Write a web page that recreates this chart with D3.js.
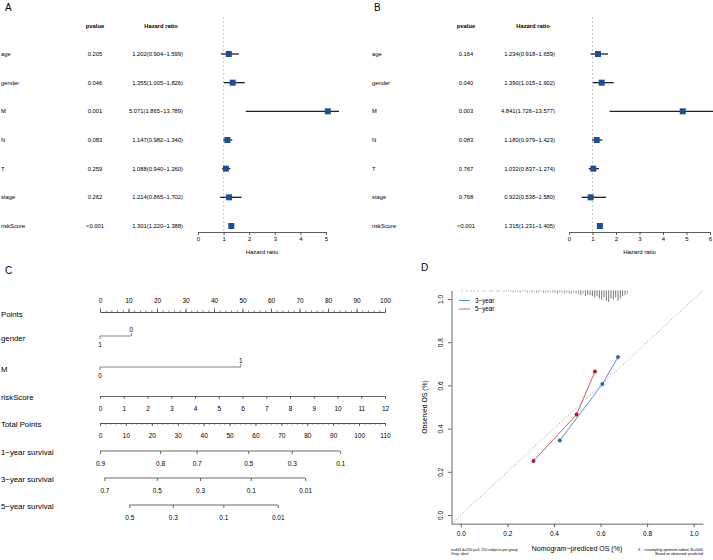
<!DOCTYPE html>
<html lang="en">
<head>
<meta charset="UTF-8" />
<title>Cox regression, nomogram and calibration</title>
<script src="https://d3js.org/d3.v7.min.js"></script>
<style>
  body { margin: 0; background: #fff; }
  svg { display: block; font-family: "Liberation Sans", Arial, Helvetica, sans-serif; }
</style>
</head>
<body>
<script>
// ---------- data ----------
var forestVars = ["age", "gender", "M", "N", "T", "stage", "riskScore"];

// A: univariate
var pvalA = ["0.205", "0.046", "0.001", "0.083", "0.259", "0.262", "<0.001"];
var hrA   = [1.202, 1.355, 5.071, 1.147, 1.088, 1.214, 1.301];
var lowA  = [0.904, 1.005, 1.865, 0.982, 0.940, 0.865, 1.220];
var highA = [1.599, 1.826, 13.789, 1.340, 1.260, 1.702, 1.388];
var ticksA = [0, 1, 2, 3, 4, 5];

// B: multivariate
var pvalB = ["0.164", "0.040", "0.003", "0.083", "0.767", "0.768", "<0.001"];
var hrB   = [1.234, 1.390, 4.841, 1.180, 1.032, 0.922, 1.315];
var lowB  = [0.918, 1.015, 1.726, 0.979, 0.837, 0.538, 1.231];
var highB = [1.659, 1.902, 13.577, 1.423, 1.274, 1.580, 1.405];
var ticksB = [0, 1, 2, 3, 4, 5, 6];

// C: nomogram
var pointTicks = [0, 10, 20, 30, 40, 50, 60, 70, 80, 90, 100];
var genderLevels = ["1", "0"], genderPoints = [0, 11];
var mLevels = ["0", "1"], mPoints = [0, 49.4];
var riskTicks = [0, 1, 2, 3, 4, 5, 6, 7, 8, 9, 10, 11, 12];
var totalTicks = [0, 10, 20, 30, 40, 50, 60, 70, 80, 90, 100, 110];
var surv1Labels = ["0.9", "0.8", "0.7", "0.5", "0.3", "0.1"];
var surv1Total  = [0, 23.2, 37.3, 57.2, 74.0, 92.7];
var surv3Labels = ["0.7", "0.5", "0.3", "0.1", "0.01"];
var surv3Total  = [1.7, 21.9, 38.6, 58.2, 79.2];
var surv5Labels = ["0.5", "0.3", "0.1", "0.01"];
var surv5Total  = [11.3, 28.1, 47.6, 68.6];

// D: calibration
var calTicks = [0, 0.2, 0.4, 0.6, 0.8, 1.0];
var cal3Pred = [0.425, 0.608, 0.675], cal3Obs = [0.345, 0.606, 0.731];
var cal5Pred = [0.312, 0.497, 0.576], cal5Obs = [0.250, 0.465, 0.664];
var cal3Corr = [0.352, 0.600, 0.724], cal5Corr = [0.258, 0.460, 0.655];
// spike histogram of predicted risk, bins of 0.01 from 0
var riskCounts = [1,0,1,0,1,1,0,1,0,1,
                  1,0,1,1,0,1,1,0,1,1,
                  1,1,2,1,1,2,1,1,2,1,
                  2,1,2,2,1,2,2,2,1,2,
                  2,3,2,2,3,2,3,3,2,3,
                  3,4,3,5,4,4,5,6,5,7,
                  8,6,9,10,7,8,6,9,7,5,
                  4,3];

var svg = d3.select("body").append("svg").attr("width", 713).attr("height", 560);

function styleAxis(g, size, color, width) {
  g.attr("font-size", size).attr("font-family", null);
  g.selectAll("line, path").attr("stroke", color).attr("stroke-width", width);
  g.selectAll("text").attr("fill", "#000");
}

// ---------- A and B forest plots ----------
function forest(o) {
  var g = svg.append("g");
  var x = d3.scaleLinear().domain([0, o.ticks[o.ticks.length - 1]]).range(o.range);
  var y = d3.scaleLinear().domain([0, forestVars.length - 1]).range([54, 226]);

  g.append("text").attr("x", o.letterX).attr("y", 11).attr("font-size", 10).text(o.letter);
  g.append("text").attr("x", o.pX).attr("y", 26).attr("dy", "0.35em").attr("text-anchor", "middle")
    .attr("font-size", 5.8).attr("font-weight", "bold").text("pvalue");
  g.append("text").attr("x", o.hrHeadX).attr("y", 26).attr("dy", "0.35em").attr("text-anchor", "middle")
    .attr("font-size", 5.8).attr("font-weight", "bold").text("Hazard ratio");

  g.append("line").attr("x1", x(1)).attr("x2", x(1)).attr("y1", 17).attr("y2", 232)
    .attr("stroke", "#bbb").attr("stroke-width", 0.8).attr("stroke-dasharray", "2,2");

  var clipId = "clip" + o.letter;
  g.append("clipPath").attr("id", clipId).append("rect")
    .attr("x", o.range[0] - 30).attr("y", 0).attr("width", o.clipX - o.range[0] + 30).attr("height", 240);

  forestVars.forEach(function (v, i) {
    var yy = y(i);
    g.append("text").attr("x", o.labelX).attr("y", yy).attr("dy", "0.35em").attr("font-size", 5.8).text(v);
    g.append("text").attr("x", o.pX).attr("y", yy).attr("dy", "0.35em").attr("text-anchor", "middle")
      .attr("font-size", 5.8).text(o.pval[i]);
    g.append("text").attr("x", o.hrRight).attr("y", yy).attr("dy", "0.35em").attr("text-anchor", "end")
      .attr("font-size", 5.8)
      .text(o.hr[i].toFixed(3) + "(" + o.low[i].toFixed(3) + "\u2212" + o.high[i].toFixed(3) + ")");
    g.append("line").attr("clip-path", "url(#" + clipId + ")")
      .attr("x1", x(o.low[i])).attr("x2", x(o.high[i])).attr("y1", yy).attr("y2", yy)
      .attr("stroke", "#222").attr("stroke-width", 1.3);
    g.append("rect").attr("x", x(o.hr[i]) - 3).attr("y", yy - 3).attr("width", 6).attr("height", 6)
      .attr("fill", "#1f4f8c");
  });

  var ax = g.append("g").attr("transform", "translate(0,232)")
    .call(d3.axisBottom(x).tickValues(o.ticks).tickFormat(d3.format("d")).tickSize(3).tickSizeOuter(0).tickPadding(2));
  styleAxis(ax, 6, "#333", 0.8);

  g.append("text").attr("x", (o.range[0] + o.range[1]) / 2).attr("y", 252).attr("dy", "0.35em")
    .attr("text-anchor", "middle").attr("font-size", 6).text("Hazard ratio");
}

forest({ letter: "A", letterX: 5, labelX: 1, pX: 95, hrHeadX: 161, hrRight: 183,
  range: [198, 326], clipX: 339, ticks: ticksA,
  pval: pvalA, hr: hrA, low: lowA, high: highA });
forest({ letter: "B", letterX: 374, labelX: 372, pX: 466, hrHeadX: 533, hrRight: 555,
  range: [569, 710], clipX: 713, ticks: ticksB,
  pval: pvalB, hr: hrB, low: lowB, high: highB });

// ---------- C nomogram ----------
(function () {
  var g = svg.append("g");
  var pt = d3.scaleLinear().domain([0, 100]).range([100, 385]);
  var tot = d3.scaleLinear().domain([0, 110]).range([100, 385]);
  var rs = d3.scaleLinear().domain([0, 12]).range([0, 100]);
  var lineCol = "#444";
  var pad = 7;

  g.append("text").attr("x", 5).attr("y", 274).attr("font-size", 10).text("C");

  function rowLabel(txt, y) {
    g.append("text").attr("x", 1).attr("y", y).attr("dy", "0.35em").attr("font-size", 7.8).text(txt);
  }

  // Points
  rowLabel("Points", 314);
  var pa = g.append("g").attr("transform", "translate(0,312)")
    .call(d3.axisTop(pt).tickValues(pointTicks).tickSize(3.5).tickSizeOuter(0).tickPadding(5.5));
  styleAxis(pa, 6.5, lineCol, 0.8);
  var pm = g.append("g").attr("transform", "translate(0,312)")
    .call(d3.axisTop(pt).tickValues(d3.range(0, 101, 2)).tickSize(1.8).tickSizeOuter(0).tickFormat(""));
  styleAxis(pm, 6.5, lineCol, 0.6);

  // categorical rows
  function catRow(name, levels, points, y) {
    rowLabel(name, y + 2);
    var xs = points.map(function (p) { return pt(p); });
    g.append("line").attr("x1", d3.min(xs)).attr("x2", d3.max(xs)).attr("y1", y).attr("y2", y)
      .attr("stroke", "#666").attr("stroke-width", 0.8);
    levels.forEach(function (lv, i) {
      var up = i % 2 === 1;
      g.append("line").attr("x1", xs[i]).attr("x2", xs[i]).attr("y1", y).attr("y2", up ? y - 3 : y + 3)
        .attr("stroke", "#666").attr("stroke-width", 0.8);
      g.append("text").attr("x", xs[i]).attr("y", up ? y - 6 : y + 9).attr("dy", "0.35em")
        .attr("text-anchor", "middle").attr("font-size", 6.5).text(lv);
    });
  }
  catRow("gender", genderLevels, genderPoints, 336);
  catRow("M", mLevels, mPoints, 367);

  // riskScore
  rowLabel("riskScore", 397);
  var ra = g.append("g").attr("transform", "translate(0,396)")
    .call(d3.axisBottom(d3.scaleLinear().domain([0, 12]).range([pt(rs(0)), pt(rs(12))]))
      .tickValues(riskTicks).tickSize(3).tickSizeOuter(0).tickPadding(pad));
  styleAxis(ra, 6.5, lineCol, 0.8);

  // Total Points
  rowLabel("Total Points", 424);
  var ta = g.append("g").attr("transform", "translate(0,423)")
    .call(d3.axisBottom(tot).tickValues(totalTicks).tickSize(3).tickSizeOuter(0).tickPadding(pad));
  styleAxis(ta, 6.5, lineCol, 0.8);
  var tm = g.append("g").attr("transform", "translate(0,423)")
    .call(d3.axisBottom(tot).tickValues(d3.range(0, 111, 2)).tickSize(1.8).tickSizeOuter(0).tickFormat(""));
  styleAxis(tm, 6.5, lineCol, 0.6);

  // survival rows
  function survRow(name, labels, totals, y) {
    rowLabel(name, y + 1);
    var sa = g.append("g").attr("transform", "translate(0," + y + ")")
      .call(d3.axisBottom(tot).tickValues(totals).tickFormat(function (d, i) { return labels[i]; })
        .tickSize(3).tickPadding(pad));
    sa.select(".domain").remove();
    sa.append("line").attr("x1", tot(d3.min(totals))).attr("x2", tot(d3.max(totals)));
    styleAxis(sa, 6.5, lineCol, 0.8);
  }
  survRow("1\u2212year survival", surv1Labels, surv1Total, 451);
  survRow("3\u2212year survival", surv3Labels, surv3Total, 478);
  survRow("5\u2212year survival", surv5Labels, surv5Total, 505);
})();

// ---------- D calibration ----------
(function () {
  var g = svg.append("g");
  var x = d3.scaleLinear().domain([-0.04, 1.04]).range([451.5, 703]);
  var y = d3.scaleLinear().domain([0, 1]).range([515, 299]);
  var yTop = y(1.04), yBot = y(-0.04);
  var blue = "#5b8fd3", blueDot = "#2e67b3", red = "#d65a5a", redDot = "#b01c2a";

  g.append("text").attr("x", 421).attr("y", 271).attr("font-size", 10).text("D");

  // ideal line
  g.append("line").attr("x1", x(-0.04)).attr("y1", y(-0.04)).attr("x2", x(1.04)).attr("y2", y(1.04))
    .attr("stroke", "#777").attr("stroke-width", 0.8).attr("stroke-dasharray", "1,2");

  // spike histogram hanging from the top of the plot
  riskCounts.forEach(function (c, i) {
    if (!c) return;
    var xx = x(i * 0.01 + 0.005);
    g.append("line").attr("x1", xx).attr("x2", xx).attr("y1", yTop).attr("y2", yTop + c * 1.15)
      .attr("stroke", c > 3 ? "#555" : "#888").attr("stroke-width", 0.8);
  });

  var line = d3.line().x(function (d) { return x(d[0]); }).y(function (d) { return y(d[1]); });
  function series(pred, obs, corr, lc, pc) {
    var pts = pred.map(function (p, i) { return [p, obs[i]]; });
    g.append("path").attr("d", line(pts)).attr("fill", "none").attr("stroke", lc).attr("stroke-width", 1);
    pred.forEach(function (p, i) {
      var cx = x(p), cy = y(corr[i]);
      g.append("path").attr("d", "M" + (cx - 1.5) + "," + (cy - 1.5) + "L" + (cx + 1.5) + "," + (cy + 1.5) +
        "M" + (cx - 1.5) + "," + (cy + 1.5) + "L" + (cx + 1.5) + "," + (cy - 1.5))
        .attr("stroke", "#a8c4e6").attr("stroke-width", 0.7);
    });
    g.selectAll(null).data(pts).enter().append("circle")
      .attr("cx", function (d) { return x(d[0]); }).attr("cy", function (d) { return y(d[1]); })
      .attr("r", 2).attr("fill", pc);
  }
  series(cal5Pred, cal5Obs, cal5Corr, red, redDot);
  series(cal3Pred, cal3Obs, cal3Corr, blue, blueDot);

  // axes (L-shaped frame)
  var xa = g.append("g").attr("transform", "translate(0," + yBot + ")")
    .call(d3.axisBottom(x).tickValues(calTicks).tickFormat(d3.format(".1f")).tickSize(3.5).tickSizeOuter(0).tickPadding(4));
  styleAxis(xa, 6.5, "#555", 0.9);
  var yAxisScale = d3.scaleLinear().domain([-0.04, 1.04]).range([yBot, yTop]);
  var ya = g.append("g").attr("transform", "translate(451.5,0)")
    .call(d3.axisLeft(yAxisScale).tickValues(calTicks).tickFormat(d3.format(".1f")).tickSize(3.5).tickSizeOuter(0));
  styleAxis(ya, 6.5, "#555", 0.9);
  ya.selectAll(".tick text").attr("x", 0).attr("y", -8.5).attr("dy", 0)
    .attr("text-anchor", "middle").attr("transform", "rotate(-90)");

  g.append("text").attr("x", 577).attr("y", 549).attr("dy", "0.35em").attr("text-anchor", "middle")
    .attr("font-size", 7).text("Nomogram\u2212prediced OS (%)");
  g.append("text").attr("transform", "translate(425," + ((yTop + yBot) / 2) + ") rotate(-90)").attr("dy", "0.35em")
    .attr("text-anchor", "middle").attr("font-size", 6.8).text("Observed OS (%)");

  // legend
  var legend = [["3\u2212year", blue], ["5\u2212year", red]];
  legend.forEach(function (d, i) {
    var ly = 300.5 + i * 8.5;
    g.append("line").attr("x1", 459).attr("x2", 470).attr("y1", ly).attr("y2", ly)
      .attr("stroke", d[1]).attr("stroke-width", 1);
    g.append("text").attr("x", 475).attr("y", ly).attr("dy", "0.35em").attr("font-size", 6.3).text(d[0]);
  });

  // footnotes
  var fs = 3.6;
  g.append("text").attr("x", 451).attr("y", 551).attr("font-size", fs).text("n=403 d=200 p=3, 150 subjects per group");
  g.append("text").attr("x", 451).attr("y", 555).attr("font-size", fs).text("Gray: ideal");
  g.append("text").attr("x", 703).attr("y", 551).attr("text-anchor", "end").attr("font-size", fs)
    .text("X \u2212 resampling optimism added, B=1000");
  g.append("text").attr("x", 703).attr("y", 555).attr("text-anchor", "end").attr("font-size", fs)
    .text("Based on observed\u2212predicted");
})();
</script>
</body>
</html>
